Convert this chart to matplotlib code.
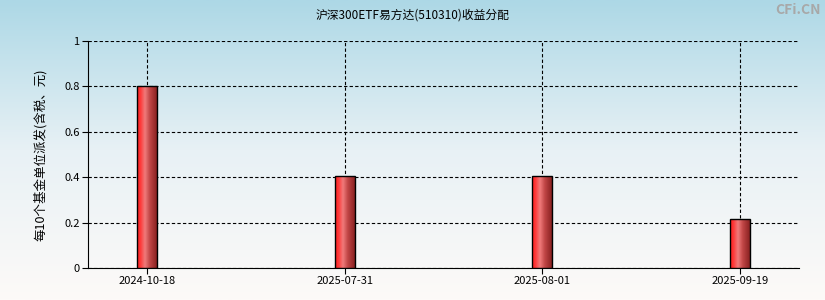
import numpy as np
import matplotlib
matplotlib.use('Agg')
import matplotlib.pyplot as plt
from matplotlib.colors import LinearSegmentedColormap

plt.rcParams['font.family'] = ['Noto Sans CJK SC', 'DejaVu Sans']

dates = ['2024-10-18', '2025-07-31', '2025-08-01', '2025-09-19']
values = [0.8, 0.405, 0.405, 0.215]
yticks = [0, 0.2, 0.4, 0.6, 0.8, 1]
ytick_labels = ['0', '0.2', '0.4', '0.6', '0.8', '1']

fig = plt.figure(figsize=(8.25, 3), dpi=100)

# background gradient (light blue -> near white)
bg = fig.add_axes([0, 0, 1, 1], zorder=-10)
bg_cmap = LinearSegmentedColormap.from_list('bg', ['#fdfaf8', '#e8f1f5', '#add8e6'])
bg.imshow(np.linspace(0, 1, 256).reshape(-1, 1), aspect='auto', cmap=bg_cmap,
          origin='lower', extent=[0, 1, 0, 1])
bg.axis('off')

ax = fig.add_axes([88 / 825, 32 / 300, 711 / 825, 227 / 300])
ax.patch.set_alpha(0)

x = np.arange(len(dates))
width = 0.1
bar_cmap = LinearSegmentedColormap.from_list(
    'bar', [(0, '#ff2020'), (0.15, '#ff3535'), (0.4, '#f07a7a'),
            (0.65, '#c04545'), (1, '#8a2222')])
grad = np.linspace(0, 1, 64).reshape(1, -1)

bars = ax.bar(x, values, width=width, facecolor='none', edgecolor='black',
              linewidth=1, zorder=4)
for b in bars:
    x0, y0 = b.get_x(), b.get_y()
    im = ax.imshow(grad, aspect='auto', cmap=bar_cmap,
                   extent=[x0, x0 + b.get_width(), y0, y0 + b.get_height()], zorder=3)
    im.set_clip_path(b)

ax.set_xlim(-0.3, 3.3)
ax.set_ylim(0, 1)
ax.set_xticks(x)
ax.set_xticklabels(dates)
ax.set_yticks(yticks)
ax.set_yticklabels(ytick_labels)
ax.tick_params(labelsize=8, length=4, color='black', pad=2)

ax.grid(True, color='black', linestyle=(0, (3, 2)), linewidth=0.8, zorder=1)
ax.set_axisbelow(True)
ax.spines['top'].set_visible(False)
ax.spines['right'].set_visible(False)

ax.set_ylabel('每10个基金单位派发(含税、元)', fontsize=9, labelpad=12)

fig.text(0.5, 0.95, '沪深300ETF易方达(510310)收益分配', ha='center', va='center', fontsize=8.5)
fig.text(0.995, 0.965, 'CFi.CN', ha='right', va='center', fontsize=10,
         color='#a8a8a8', fontweight='bold')

fig.savefig('out.png', dpi=100)
